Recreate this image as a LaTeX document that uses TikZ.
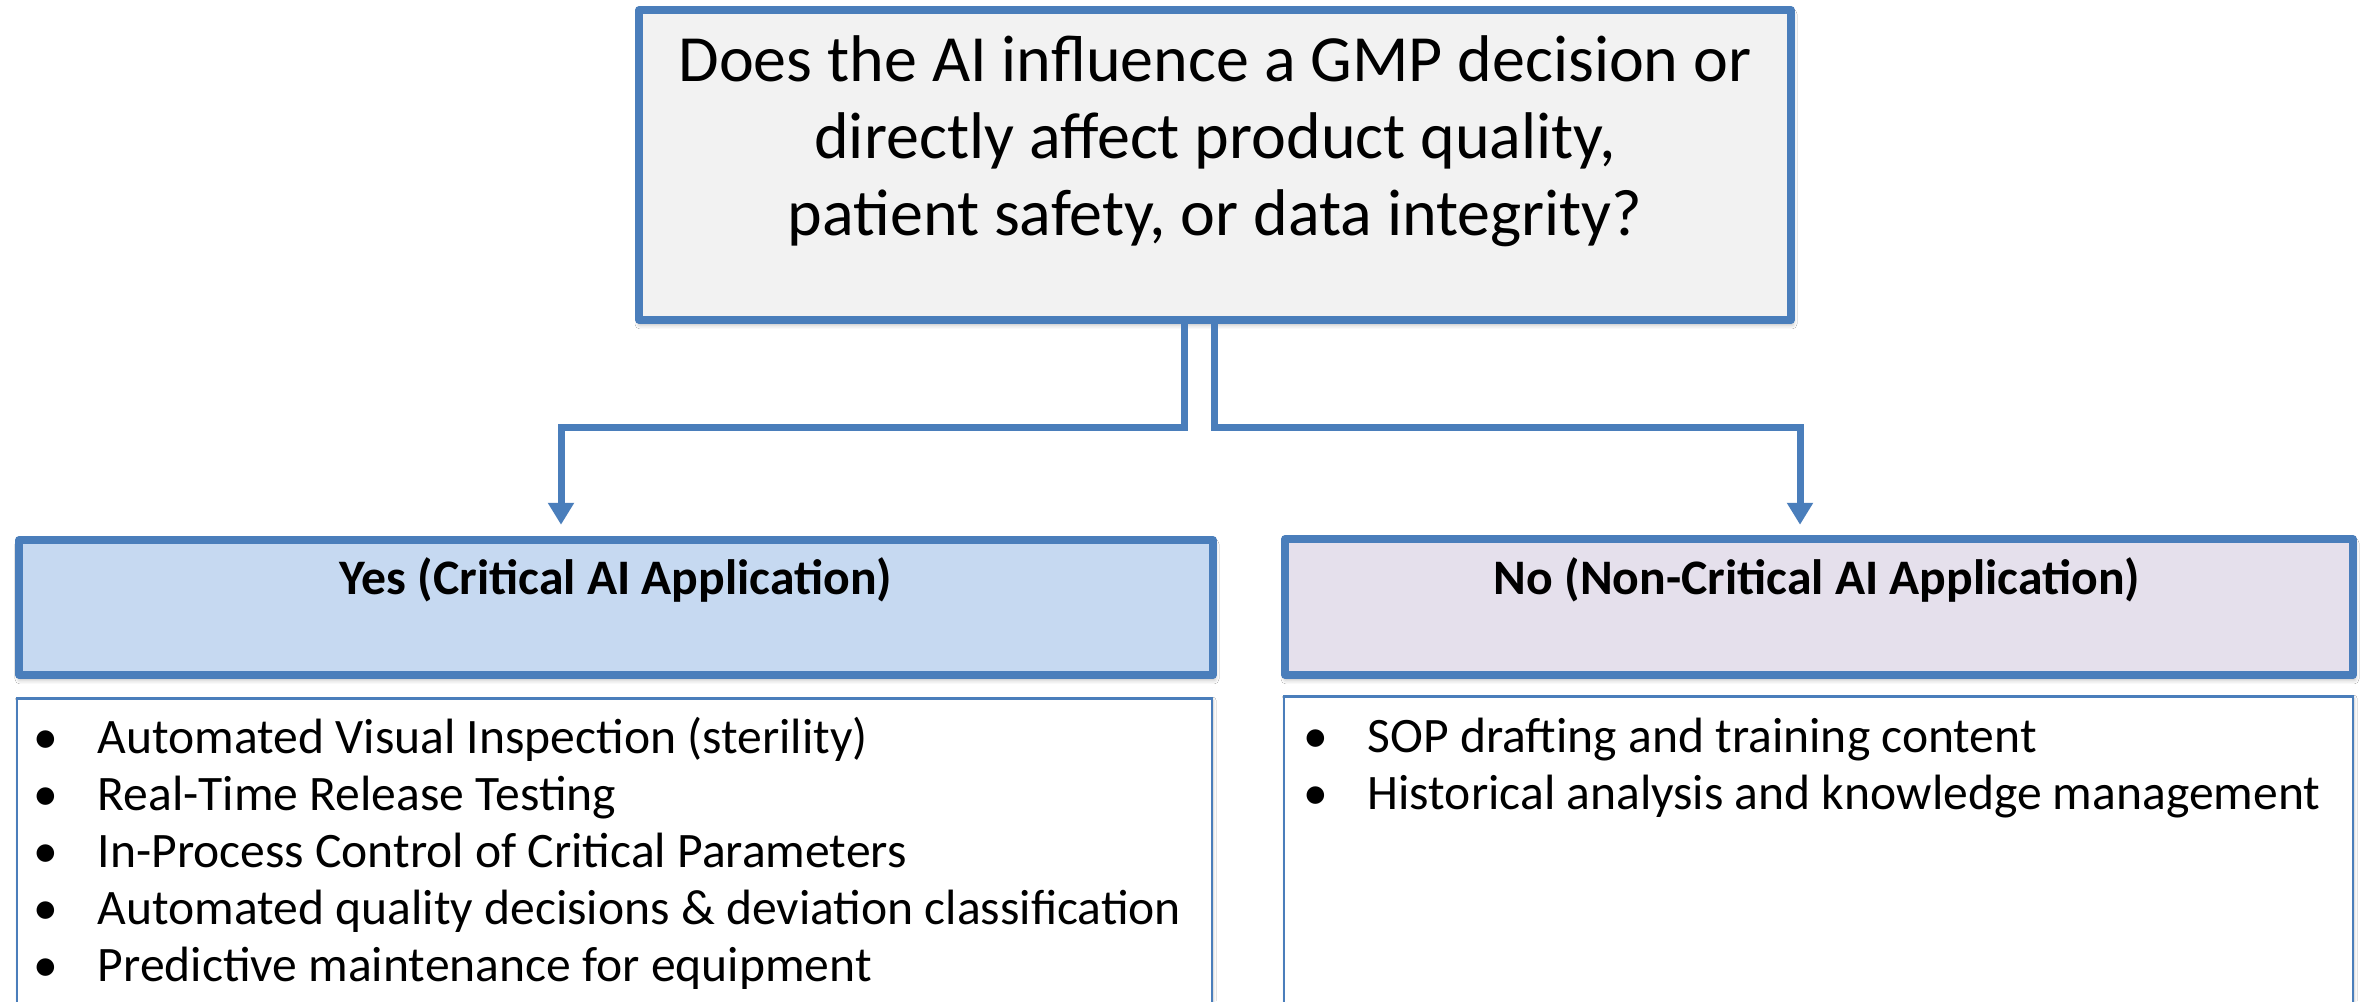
\documentclass[tikz,border=0pt]{standalone}
\usepackage{fontspec}
\setmainfont{Carlito}
\usetikzlibrary{arrows.meta,shadows.blur}

\definecolor{borda}{HTML}{4A7EBB}
\definecolor{fundocinza}{HTML}{F2F2F2}
\definecolor{fundoazul}{HTML}{C6D9F1}
\definecolor{fundolilas}{HTML}{E5E0EC}

\begin{document}
\begin{tikzpicture}[>={Triangle[length=0.22cm,width=0.25cm]},
	caixa/.style={draw=borda, line width=0.075cm, line join=round, inner sep=0pt,
		blur shadow={shadow xshift=0.01cm, shadow yshift=-0.04cm, shadow blur radius=0.05cm, shadow opacity=35}},
	lista/.style={draw=borda, line width=0.025cm, fill=white, inner sep=0pt,
		blur shadow={shadow xshift=0.01cm, shadow yshift=-0.02cm, shadow blur radius=0.03cm, shadow opacity=25}},
	seta/.style={draw=borda, line width=0.07cm, ->},
	titulo/.style={anchor=base, inner sep=0pt, font=\fontsize{0.497cm}{0.6cm}\selectfont\bfseries},
	item/.style={anchor=base west, inner sep=0pt, font=\fontsize{0.496cm}{0.575cm}\selectfont}]
	
	% Area do desenho
	\path[use as bounding box, fill=white] (0,0) rectangle (23.64,10.01);
	
	% Pergunta
	\node[caixa, fill=fundocinza, minimum width=11.52cm, minimum height=3.10cm] (q) at (12.15,8.36) {};
	\node[align=center, font=\fontsize{0.66cm}{0.77cm}\selectfont] (qtexto) at ([yshift=0.24cm]q.center)
		{Does the AI influence a GMP decision or\\ directly affect product quality,\\ patient safety, or data integrity?};
	
	% Respostas
	\node[caixa, fill=fundoazul, minimum width=11.94cm, minimum height=1.35cm] (sim) at (6.16,3.935) {};
	\node[caixa, fill=fundolilas, minimum width=10.68cm, minimum height=1.36cm] (nao) at (18.19,3.94) {};
	\node[titulo] (simtitulo) at (6.16,4.07) {Yes (Critical AI Application)};
	\node[titulo] (naotitulo) at (18.17,4.07) {No (Non-Critical AI Application)};
	
	% Setas
	\draw[seta] ([xshift=-0.31cm]q.south) -- ++(0,-1.04) -| ([xshift=-0.55cm,yshift=0.115cm]sim.north);
	\draw[seta] ([xshift=-0.01cm]q.south) -- ++(0,-1.04) -| ([xshift=-0.19cm,yshift=0.105cm]nao.north);
	
	% Listas
	\node[lista, anchor=north, minimum width=11.95cm, minimum height=3.40cm] (simlista) at (6.145,3.04) {};
	\node[lista, anchor=north, minimum width=10.69cm, minimum height=3.40cm] (naolista) at (18.185,3.06) {};
	
	\foreach \t [count=\i from 0] in {Automated Visual Inspection (sterility), Real-Time Release Testing,
		In-Process Control of Critical Parameters, Automated quality decisions \& deviation classification,
		Predictive maintenance for equipment}
		\node[item] (simitem\i) at (0.33,2.475-0.57*\i) {\makebox[0.64cm][l]{\textbullet}\t};
	
	\foreach \t [count=\i from 0] in {SOP drafting and training content, Historical analysis and knowledge management}
		\node[item] (naoitem\i) at (13.03,2.49-0.57*\i) {\makebox[0.64cm][l]{\textbullet}\t};
\end{tikzpicture}
\end{document}
